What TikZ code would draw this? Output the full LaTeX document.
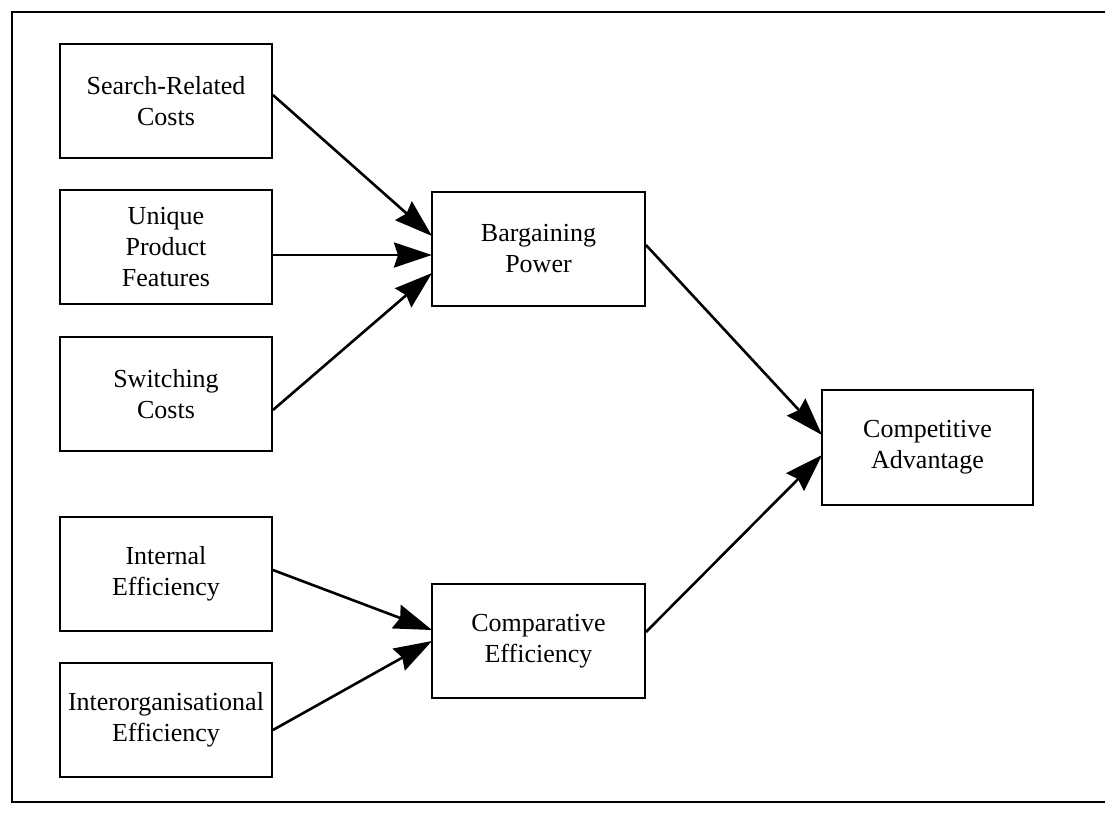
\documentclass[tikz,border=0pt]{standalone}
\usepackage{fontspec}
\setmainfont{Liberation Serif}
\usetikzlibrary{arrows.meta}
\begin{document}
\begin{tikzpicture}[x=1pt,y=-1pt,
  box/.style={draw, line width=1.9pt, minimum width=212pt, minimum height=114pt,
    inner sep=0pt, align=center, font=\fontsize{26}{31}\selectfont},
  link/.style={line width=2.6pt, -{Stealth[length=38pt,width=25pt,inset=4pt]}}]
\useasboundingbox (0,0) rectangle (1105,812);
% open frame around the model
\draw[line width=1.8pt] (1105,12) -- (12,12) -- (12,802) -- (1105,802);

% antecedents
\node[box] (src) at (166,101) {Search-Related\\Costs};
\node[box] (upf) at (166,247) {Unique\\Product\\Features};
\node[box] (swc) at (166,394) {Switching\\Costs};
\node[box] (ief) at (166,574) {Internal\\Efficiency};
\node[box] (ioe) at (166,720) {Interorganisational\\Efficiency};

% intermediate constructs
\node[box, minimum width=213pt] (bp) at (538.5,249) {Bargaining\\Power};
\node[box, minimum width=213pt] (ce) at (538.5,641) {Comparative\\Efficiency};

% outcome
\node[box, minimum width=211pt, minimum height=115pt] (ca) at (927.5,447.5) {Competitive\\Advantage};

% connectors
\coordinate (bp1) at (432,236);
\coordinate (bp2) at (432,255);
\coordinate (bp3) at (432,273);
\draw[link] (src.east |- 0,95) -- (bp1);
\draw[link] (upf.east |- 0,255) -- (bp2);
\draw[link] (swc.east |- 0,410) -- (bp3);

\coordinate (ce1) at (432,630);
\coordinate (ce2) at (432,641);
\draw[link] (ief.east |- 0,570) -- (ce1);
\draw[link] (ioe.east |- 0,730) -- (ce2);

\coordinate (ca1) at (822,435);
\coordinate (ca2) at (822,455);
\draw[link] (bp.east |- 0,245) -- (ca1);
\draw[link] (ce.east |- 0,632) -- (ca2);
\end{tikzpicture}
\end{document}
